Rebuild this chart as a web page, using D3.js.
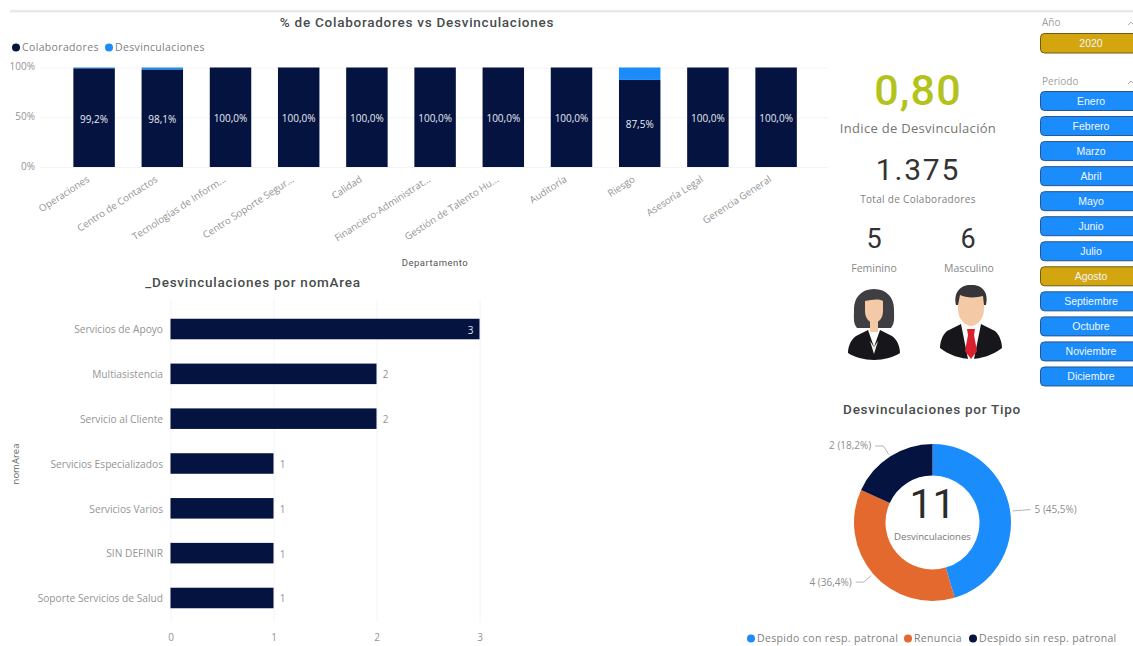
<!DOCTYPE html>
<html lang="es">
<head>
<meta charset="utf-8">
<title>Desvinculaciones</title>
<script src="https://cdnjs.cloudflare.com/ajax/libs/d3/7.8.5/d3.min.js"></script>
<style>
  html, body { margin: 0; padding: 0; background: #fff; overflow: hidden; }
  svg { display: block; }
  text { font-family: "Open Sans", sans-serif; }
  .title { font-family: Roboto, sans-serif; font-weight: 500; font-size: 13.5px; fill: #474c4e; letter-spacing: .75px; text-anchor: middle; }
  .axis path, .axis line { stroke: none; }
  .axis text { fill: #949494; font-family: "Open Sans", sans-serif; }
  .grid line { stroke: #f4f4f4; }
  .grid path { stroke: none; }
  .legend { font-size: 10.5px; fill: #808080; letter-spacing: .35px; }
</style>
</head>
<body>
<svg id="board" width="1133" height="646"></svg>
<script>
// Stacked share per department
const departamentos = ["Operaciones", "Centro de Contactos", "Tecnologías de Inform...", "Centro Soporte Segur...", "Calidad", "Financiero-Administrat...", "Gestión de Talento Hu...", "Auditoría", "Riesgo", "Asesoría Legal", "Gerencia General"];
const colaboradoresPct = [99.2, 98.1, 100, 100, 100, 100, 100, 100, 87.5, 100, 100];
const desvinculacionesPct = [0.8, 1.9, 0, 0, 0, 0, 0, 0, 12.5, 0, 0];
const pctTicks = [0, 50, 100];

// Exits per area
const areas = ["Servicios de Apoyo", "Multiasistencia", "Servicio al Cliente", "Servicios Especializados", "Servicios Varios", "SIN DEFINIR", "Soporte Servicios de Salud"];
const areaValores = [3, 2, 2, 1, 1, 1, 1];
const areaTicks = [0, 1, 2, 3];

// Exits per type
const tipos = ["Despido con resp. patronal", "Renuncia", "Despido sin resp. patronal"];
const tipoValores = [5, 4, 2];
const tipoEtiquetas = ["5 (45,5%)", "4 (36,4%)", "2 (18,2%)"];

// Slicers
const anios = ["2020"];
const periodos = ["Enero", "Febrero", "Marzo", "Abril", "Mayo", "Junio", "Julio", "Agosto", "Septiembre", "Octubre", "Noviembre", "Diciembre"];
const periodoActivo = "Agosto";

const NAVY = "#04133f", BLUE = "#1a8cfb", ORANGE = "#e4692f", GOLD = "#d3a50f";
const svg = d3.select("#board");
const comma = v => v.toFixed(1).replace(".", ",") + "%";

// Header rule
svg.append("rect").attr("x", 10).attr("y", 10).attr("width", 1123).attr("height", 2.5).attr("fill", "#e9e9e9");

/* ---------- 100% stacked columns ---------- */
const xDep = d3.scaleBand().domain(departamentos).range([60, 810.2]).paddingInner(0.392).paddingOuter(0.196);
const yPct = d3.scaleLinear().domain([0, 100]).range([167, 67.5]);

svg.append("text").attr("class", "title").attr("x", 417).attr("y", 27).text("% de Colaboradores vs Desvinculaciones");

svg.append("g").attr("class", "grid").attr("transform", "translate(40,0)")
  .call(d3.axisLeft(yPct).tickValues(pctTicks).tickSize(-788).tickFormat(""));
svg.append("g").attr("class", "axis").attr("transform", "translate(38,-1)")
  .call(d3.axisLeft(yPct).tickValues(pctTicks).tickSize(0).tickFormat(d => d + "%"))
  .selectAll("text").attr("font-size", 10).style("font-size", "10px");

const legendTop = [["Colaboradores", NAVY, 16], ["Desvinculaciones", BLUE, 109]];
legendTop.forEach(([name, color, cx]) => {
  svg.append("circle").attr("cx", cx).attr("cy", 47.5).attr("r", 4).attr("fill", color);
  svg.append("text").attr("class", "legend").attr("x", cx + 6).attr("y", 51).text(name);
});

const colGroups = svg.append("g").selectAll("g").data(departamentos).join("g");
colGroups.append("rect")
  .attr("x", d => xDep(d)).attr("width", xDep.bandwidth())
  .attr("y", (d, i) => yPct(colaboradoresPct[i]))
  .attr("height", (d, i) => yPct(0) - yPct(colaboradoresPct[i]))
  .attr("fill", NAVY);
colGroups.append("rect")
  .attr("x", d => xDep(d)).attr("width", xDep.bandwidth())
  .attr("y", (d, i) => yPct(100))
  .attr("height", (d, i) => yPct(0) - yPct(desvinculacionesPct[i]))
  .attr("fill", BLUE);
colGroups.append("text")
  .attr("x", d => xDep(d) + xDep.bandwidth() / 2)
  .attr("y", (d, i) => yPct(colaboradoresPct[i] / 2) + 5)
  .attr("text-anchor", "middle").attr("font-size", 10).attr("fill", "#e8ecf4")
  .text((d, i) => comma(colaboradoresPct[i]));

const depAxis = svg.append("g").attr("class", "axis").attr("transform", "translate(0,167)")
  .call(d3.axisBottom(xDep).tickSize(0).tickPadding(0));
depAxis.selectAll("text")
  .attr("font-size", 9.8).style("font-size", "9.8px")
  .attr("text-anchor", "end").attr("dx", 0).attr("dy", 0)
  .attr("transform", "translate(-4,14) rotate(-33)");

svg.append("text").attr("x", 435).attr("y", 266).attr("text-anchor", "middle")
  .attr("font-size", 9.5).attr("fill", "#555").style("font-family", "Roboto").style("letter-spacing", ".5px").text("Departamento");

/* ---------- Horizontal bars by area ---------- */
const xArea = d3.scaleLinear().domain([0, 3]).range([170.5, 479.5]);
const yArea = d3.scaleBand().domain(areas).range([306.6, 620.4]).paddingInner(0.542).paddingOuter(0.271);

svg.append("text").attr("class", "title").attr("x", 253).attr("y", 287).text("_Desvinculaciones por nomArea");

svg.append("g").attr("class", "grid").attr("transform", "translate(0,622)")
  .call(d3.axisBottom(xArea).tickValues(areaTicks).tickSize(-322).tickFormat(""));
svg.append("g").attr("class", "axis").attr("transform", "translate(0,631)")
  .call(d3.axisBottom(xArea).tickValues(areaTicks).tickSize(0).tickFormat(d3.format("d")))
  .selectAll("text").attr("font-size", 10).style("font-size", "10px");
svg.append("g").attr("class", "axis").attr("transform", "translate(163,1)")
  .call(d3.axisLeft(yArea).tickSize(0).tickPadding(0))
  .selectAll("text").attr("font-size", 10.2).style("font-size", "10.2px");

svg.append("g").selectAll("rect").data(areas).join("rect")
  .attr("x", xArea(0)).attr("y", d => yArea(d))
  .attr("width", (d, i) => xArea(areaValores[i]) - xArea(0))
  .attr("height", yArea.bandwidth()).attr("fill", NAVY);
svg.append("g").selectAll("text").data(areas).join("text")
  .attr("x", (d, i) => areaValores[i] === 3 ? xArea(areaValores[i]) - 6 : xArea(areaValores[i]) + 9)
  .attr("y", d => yArea(d) + yArea.bandwidth() / 2 + 4.5)
  .attr("text-anchor", (d, i) => areaValores[i] === 3 ? "end" : "middle")
  .attr("font-size", 10)
  .attr("fill", (d, i) => areaValores[i] === 3 ? "#dfe4ee" : "#949494")
  .text((d, i) => areaValores[i]);

svg.append("text").attr("transform", "translate(19,464) rotate(-90)").attr("text-anchor", "middle")
  .attr("font-size", 9.5).attr("fill", "#666").text("nomArea");

/* ---------- KPI cards ---------- */
const kpi = (x, y, size, color, txt, family, spacing) => svg.append("text")
  .attr("x", x).attr("y", y).attr("text-anchor", "middle").attr("font-size", size).attr("fill", color)
  .style("font-family", family || "Open Sans").style("letter-spacing", spacing || "0").text(txt);

kpi(918, 105, 43, "#b4c31b", "0,80", "Roboto", "1.2px").style("font-weight", 500);
kpi(918, 133, 13, "#757575", "Indice de Desvinculación", "Open Sans", ".3px");
kpi(918, 180, 30, "#333", "1.375", "Roboto", "1.8px");
kpi(918, 203, 10, "#808080", "Total de Colaboradores", "Open Sans", ".3px");
kpi(874, 248, 27, "#333", "5", "Roboto");
kpi(968, 248, 27, "#333", "6", "Roboto");
kpi(874, 272, 10.5, "#888", "Feminino");
kpi(969, 272, 10.5, "#888", "Masculino");

// Woman and man avatars
const woman = svg.append("g").attr("transform", "translate(874,289)");
woman.append("path").attr("fill", "#3f3e42")
  .attr("d", "M0,0 C13,0 20,9 20,20 C20,29 21,34 17,39 L-17,39 C-21,34 -20,29 -20,20 C-20,9 -13,0 0,0Z");
woman.append("path").attr("fill", "#f4c9a5")
  .attr("d", "M-9,12 C-3,11 4,9 9,12 L9,22 C9,30 4,34 0,34 C-4,34 -9,30 -9,22Z M-4,30 L4,30 L4,43 L-4,43Z");
woman.append("path").attr("fill", "#17161a")
  .attr("d", "M-6,41 L-18,47 C-24,51 -26,59 -26,64 C-20,68 -10,71 0,71 C10,71 20,68 26,64 C26,59 24,51 18,47 L6,41 L0,58Z");
woman.append("path").attr("fill", "#f6f0ea").attr("d", "M-4,52 L0,65 L4,52 L0,58Z");

const man = svg.append("g").attr("transform", "translate(971,285)");
man.append("path").attr("fill", "#f4c9a5")
  .attr("d", "M-13,6 L13,6 L13,24 C13,34 6,41 0,41 C-6,41 -13,34 -13,24Z");
man.append("path").attr("fill", "#35353a")
  .attr("d", "M-15,20 C-18,6 -9,-1 1,0 C11,0 18,7 15,20 L13,20 L12,11 C5,13 -5,13 -11,10 L-13,20Z");
man.append("path").attr("fill", "#fbfbfb").attr("d", "M-10,37 L0,42 L10,37 L12,56 L0,74 L-12,56Z");
man.append("path").attr("fill", "#17161a")
  .attr("d", "M-10,39 L-24,46 C-29,50 -31,58 -31,63 C-22,70 -10,74 0,74 C10,74 22,70 31,63 C31,58 29,50 24,46 L10,39 L3,74 L-3,74Z");
man.append("path").attr("fill", "#d9202f").attr("d", "M-4,44 L4,44 L3,50 L6,66 L0,74 L-6,66 L-3,50Z");

/* ---------- Donut by type ---------- */
svg.append("text").attr("class", "title").attr("x", 932).attr("y", 414).text("Desvinculaciones por Tipo");

const cx = 932.5, cy = 522.5;
const tipoColor = d3.scaleOrdinal().domain(tipos).range([BLUE, ORANGE, NAVY]);
const pie = d3.pie().sort(null).value((d, i) => tipoValores[i]);
const arc = d3.arc().innerRadius(47).outerRadius(78.5);
const donut = svg.append("g").attr("transform", `translate(${cx},${cy})`);
const slices = pie(tipos);
donut.selectAll("path").data(slices).join("path").attr("d", arc).attr("fill", d => tipoColor(d.data));

// Leader lines leave each slice at its mid angle, then run level to the label
const polar = (a, r) => [Math.sin(a) * r, -Math.cos(a) * r];
slices.forEach((s, i) => {
  const mid = (s.startAngle + s.endAngle) / 2;
  const right = Math.sin(mid) > 0;
  const p0 = polar(mid, 81), p1 = polar(mid, 91);
  const p2 = [p1[0] + (right ? 8 : -8), p1[1]];
  donut.append("polyline").attr("points", right ? [p0, p2].join(" ") : [p0, p1, p2].join(" "))
    .attr("fill", "none").attr("stroke", "#b5b5b5").attr("stroke-width", 1);
  donut.append("text").attr("x", p2[0] + (right ? 4 : -4)).attr("y", p2[1] + 3.5)
    .attr("text-anchor", right ? "start" : "end").attr("font-size", 10).attr("fill", "#8e8e8e")
    .text(tipoEtiquetas[i]);
});
donut.append("text").attr("text-anchor", "middle").attr("y", -5).attr("font-size", 41).attr("fill", "#2b2b2b")
  .style("font-family", "Roboto").text(d3.sum(tipoValores));
donut.append("text").attr("text-anchor", "middle").attr("y", 17).attr("font-size", 9.6).attr("fill", "#777").text("Desvinculaciones");

const legendX = [751, 908, 973];
tipos.forEach((t, i) => {
  svg.append("circle").attr("cx", legendX[i]).attr("cy", 638.5).attr("r", 4).attr("fill", tipoColor(t));
  svg.append("text").attr("class", "legend").attr("x", legendX[i] + 6).attr("y", 642).text(t);
});

/* ---------- Slicers ---------- */
const slicerHead = (label, y) => {
  svg.append("text").attr("x", 1042).attr("y", y).attr("font-size", 10).attr("fill", "#a0a0a0").text(label);
  svg.append("path").attr("d", `M1128,${y - 1} l3,-3 l3,3`).attr("fill", "none").attr("stroke", "#aaa");
};
const slicerButton = (label, top, h, color, border) => {
  svg.append("rect").attr("x", 1040.5).attr("y", top).attr("width", 104).attr("height", h).attr("rx", 4)
    .attr("fill", color).attr("stroke", border).attr("stroke-width", 1);
  svg.append("text").attr("x", 1091).attr("y", top + h / 2 + 3.8).attr("text-anchor", "middle")
    .attr("font-size", 10.5).attr("fill", "#f2f6fb").style("font-family", "Liberation Sans").text(label);
};
slicerHead("Año", 26);
anios.forEach(a => slicerButton(a, 33.5, 19.5, GOLD, "#6f5c14"));
slicerHead("Periodo", 85);
const yPeriodo = d3.scaleBand().domain(periodos).range([91.5, 392]);
periodos.forEach(p => slicerButton(p, yPeriodo(p), 19, p === periodoActivo ? GOLD : BLUE, p === periodoActivo ? "#6f5c14" : "#27568f"));
</script>
</body>
</html>
